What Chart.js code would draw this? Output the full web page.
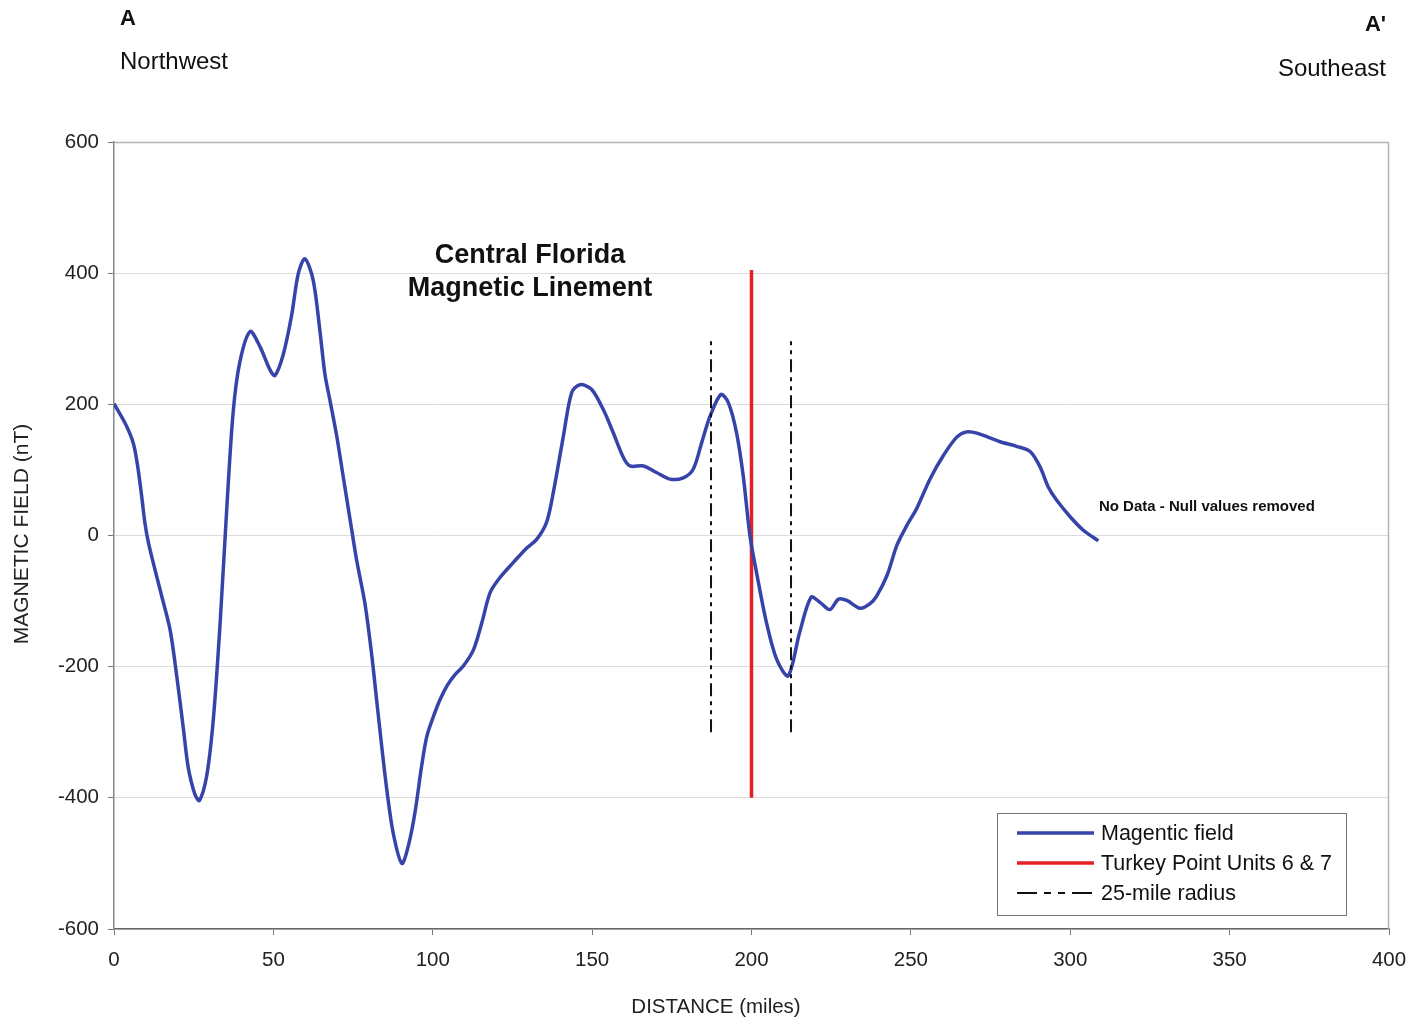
<!DOCTYPE html>
<html>
<head>
<meta charset="utf-8">
<script src="https://cdn.jsdelivr.net/npm/chart.js@4.4.1/dist/chart.umd.min.js"></script>
<style>
  html, body { margin: 0; padding: 0; background: #fff; }
  #wrap { position: relative; width: 1420px; height: 1023px; }
  canvas { position: absolute; left: 0; top: 0; }
  .lbl { position: absolute; font-family: "Liberation Sans", Arial, sans-serif; color: #111; white-space: nowrap; }
</style>
</head>
<body>
<div id="wrap">
  <canvas id="c" width="1420" height="1023"></canvas>
  <div class="lbl" style="left:120px; top:5px; font-size:22px; font-weight:bold;">A</div>
  <div class="lbl" style="left:120px; top:47px; font-size:24px;">Northwest</div>
  <div class="lbl" style="right:34px; top:11px; font-size:22px; font-weight:bold;">A'</div>
  <div class="lbl" style="right:34px; top:54px; font-size:24px;">Southeast</div>
</div>
<script>
// ---- Data ----
const distanceMiles = [0,3.5,6.1,7.6,8.7,9.7,10.8,12.9,15.0,17.6,19.7,21.8,23.3,25.4,26.8,29.1,31.2,33.3,35.4,37.4,39.5,42.7,45.8,48.9,50.5,53.1,55.7,57.8,59.9,62.5,64.6,66.2,67.8,69.9,71.9,74.6,76.1,78.7,80.8,82.4,84.0,85.6,87.6,90.3,92.3,94.4,96.5,98.1,100.2,102.3,104.6,107.0,109.6,112.8,115.4,118.0,121.1,125.3,129.5,132.6,135.7,137.8,141.0,143.6,146.2,149.8,153.5,156.6,159.8,161.9,166.1,170.2,174.4,178.6,181.7,184.4,187.0,190.4,192.7,195.3,197.4,199.5,201.6,204.7,207.9,211.5,215.1,218.7,221.5,224.6,227.3,229.9,234.1,237.2,239.3,242.5,245.6,248.7,251.8,256.1,260.2,264.4,267.5,270.7,278.0,283.2,287.4,290.5,293.1,295.7,299.9,304.1,308.8];
const magneticField = [201,171,140,100,59,19,-11,-53,-93,-144,-215,-296,-354,-395,-404,-366,-278,-133,43,189,265,311,288,253,244,276,335,399,422,389,312,245,205,151,90,8,-37,-103,-180,-251,-322,-388,-454,-500,-474,-423,-352,-307,-276,-250,-228,-212,-199,-174,-133,-87,-64,-41,-19,-6,20,65,152,218,230,223,192,157,119,106,106,96,86,88,101,142,182,215,203,157,91,0,-57,-133,-189,-214,-148,-94,-102,-113,-97,-99,-111,-104,-92,-61,-15,15,41,87,122,150,158,156,143,136,128,105,74,54,29,8,-8];
const turkeyPointX = [200, 200];
const turkeyPointY = [-400, 405];
const radiusWestX = [187.3, 187.3];
const radiusEastX = [212.4, 212.4];
const radiusY = [-300, 300];
const xTicks = [0,50,100,150,200,250,300,350,400];
const yTicks = [-600,-400,-200,0,200,400,600];
const legendLabels = ["Magentic field", "Turkey Point Units 6 & 7", "25-mile radius"];
const annotationTitle = ["Central Florida", "Magnetic Linement"];
const annotationPos = {x: 130.5, y1: 427, y2: 376};
const noDataText = "No Data - Null values removed";
const noDataPos = {x: 309, y: 43};
const xTitle = "DISTANCE (miles)";
const yTitle = "MAGNETIC FIELD (nT)";

const BLUE = '#3643a8';
const RED = '#e41f26';
const DASH = [13, 5, 4, 5, 4, 5];
const FONT = '"Liberation Sans", Arial, sans-serif';

const toPts = (xs, ys) => xs.map((x, i) => ({x, y: ys[i]}));

const extras = {
  id: 'extras',
  afterDraw(chart) {
    const {ctx, chartArea: a, scales: {x, y}} = chart;
    ctx.save();
    // frame top/right
    ctx.strokeStyle = '#b5b5b5';
    ctx.lineWidth = 1.5;
    ctx.beginPath();
    ctx.moveTo(a.left, a.top + 0.5); ctx.lineTo(a.right - 0.5, a.top + 0.5); ctx.lineTo(a.right - 0.5, a.bottom);
    ctx.stroke();
    // axis titles
    ctx.fillStyle = '#222';
    ctx.textAlign = 'center';
    ctx.textBaseline = 'middle';
    ctx.font = '20.5px ' + FONT;
    ctx.fillText(xTitle, 716, 1007);
    ctx.save();
    ctx.translate(22, 534);
    ctx.rotate(-Math.PI / 2);
    ctx.font = '21px ' + FONT;
    ctx.fillText(yTitle, 0, 0);
    ctx.restore();
    // annotation title
    ctx.fillStyle = '#111';
    ctx.font = 'bold 27px ' + FONT;
    ctx.fillText(annotationTitle[0], x.getPixelForValue(annotationPos.x), y.getPixelForValue(annotationPos.y1));
    ctx.fillText(annotationTitle[1], x.getPixelForValue(annotationPos.x), y.getPixelForValue(annotationPos.y2));
    // no data text
    ctx.textAlign = 'left';
    ctx.font = 'bold 15px ' + FONT;
    ctx.fillText(noDataText, x.getPixelForValue(noDataPos.x), y.getPixelForValue(noDataPos.y));
    // legend
    const bx = 997, by = 813, bw = 349, bh = 102;
    ctx.fillStyle = '#fff';
    ctx.fillRect(bx, by, bw, bh);
    ctx.strokeStyle = '#777';
    ctx.lineWidth = 1;
    ctx.strokeRect(bx + 0.5, by + 0.5, bw, bh);
    const rows = [833, 863, 893];
    const styles = [{c: BLUE, d: [], w: 3.5}, {c: RED, d: [], w: 3.5}, {c: '#111', d: [20,7,7,7,7,7], w: 2}];
    ctx.font = '21.5px ' + FONT;
    rows.forEach((ry, i) => {
      ctx.strokeStyle = styles[i].c;
      ctx.lineWidth = styles[i].w;
      ctx.setLineDash(styles[i].d);
      ctx.beginPath();
      ctx.moveTo(1017, ry); ctx.lineTo(1094, ry);
      ctx.stroke();
      ctx.setLineDash([]);
      ctx.fillStyle = '#111';
      ctx.fillText(legendLabels[i], 1101, ry + 1);
    });
    ctx.restore();
  }
};

new Chart(document.getElementById('c'), {
  type: 'scatter',
  data: {
    datasets: [
      { label: legendLabels[2], data: toPts(radiusWestX, radiusY), showLine: true, borderColor: '#111', borderWidth: 2, borderDash: DASH, pointRadius: 0 },
      { label: legendLabels[2], data: toPts(radiusEastX, radiusY), showLine: true, borderColor: '#111', borderWidth: 2, borderDash: DASH, pointRadius: 0 },
      { label: legendLabels[0], data: toPts(distanceMiles, magneticField), showLine: true, borderColor: BLUE, borderWidth: 3.5, pointRadius: 0, tension: 0.3 },
      { label: legendLabels[1], data: toPts(turkeyPointX, turkeyPointY), showLine: true, borderColor: RED, borderWidth: 3.5, pointRadius: 0 }
    ]
  },
  options: {
    responsive: false,
    animation: false,
    layout: { padding: { top: 142, right: 31, left: 0, bottom: 0 } },
    plugins: { legend: { display: false }, tooltip: { enabled: false } },
    scales: {
      x: {
        type: 'linear', min: 0, max: 400,
        afterBuildTicks: s => { s.ticks = xTicks.map(v => ({value: v})); },
        afterFit: s => { s.height = 94; },
        grid: { drawOnChartArea: false, drawTicks: true, tickLength: 6, tickColor: '#777' },
        border: { color: '#666', width: 1.5 },
        ticks: { color: '#222', font: { size: 20.5, family: FONT }, padding: 13, maxRotation: 0 },
        title: { display: false }
      },
      y: {
        type: 'linear', min: -600, max: 600,
        afterBuildTicks: s => { s.ticks = yTicks.map(v => ({value: v})); },
        afterFit: s => { s.width = 114; },
        grid: { color: '#dcdcdc', lineWidth: 1, tickLength: 6, tickColor: '#777' },
        border: { color: '#888', width: 1.5 },
        ticks: { color: '#222', font: { size: 20.5, family: FONT }, padding: 9 },
        title: { display: false }
      }
    }
  },
  plugins: [extras]
});
</script>
</body>
</html>
